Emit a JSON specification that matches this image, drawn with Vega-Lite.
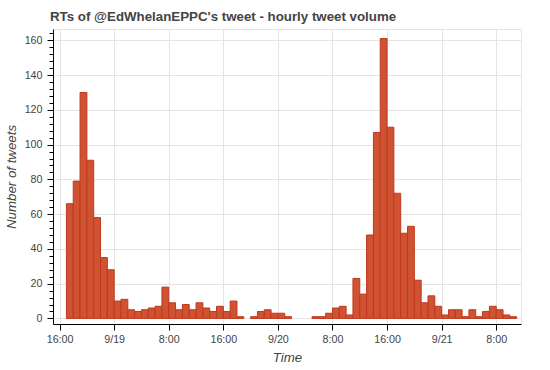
{
  "$schema": "https://vega.github.io/schema/vega-lite/v6.json",
  "autosize": "none",
  "width": 468,
  "height": 295,
  "padding": {"left": 53, "top": 29, "right": 29, "bottom": 46},
  "background": "white",
  "title": {
    "text": "RTs of @EdWhelanEPPC's tweet - hourly tweet volume",
    "anchor": "start",
    "frame": "group",
    "font": "Liberation Sans",
    "fontSize": 13.3,
    "fontWeight": "bold",
    "color": "#444444",
    "baseline": "alphabetic",
    "offset": 6,
    "dx": -3,
    "dy": 13
  },
  "config": {
    "view": {"stroke": "#e5e5e5", "strokeWidth": 1},
    "axis": {
      "labelFont": "Liberation Sans",
      "labelFontSize": 10.7,
      "labelColor": "#444444",
      "titleFont": "Liberation Sans",
      "titleFontSize": 13.3,
      "titleFontStyle": "italic",
      "titleFontWeight": "normal",
      "titleColor": "#444444",
      "domainColor": "#000000",
      "tickColor": "#000000",
      "gridColor": "#e5e5e5",
      "gridWidth": 1
    }
  },
  "data": {
    "values": [
      {"t": "2018-09-18T17:00:00Z", "t2": "2018-09-18T18:00:00Z", "n": 66},
      {"t": "2018-09-18T18:00:00Z", "t2": "2018-09-18T19:00:00Z", "n": 79},
      {"t": "2018-09-18T19:00:00Z", "t2": "2018-09-18T20:00:00Z", "n": 130},
      {"t": "2018-09-18T20:00:00Z", "t2": "2018-09-18T21:00:00Z", "n": 91},
      {"t": "2018-09-18T21:00:00Z", "t2": "2018-09-18T22:00:00Z", "n": 58},
      {"t": "2018-09-18T22:00:00Z", "t2": "2018-09-18T23:00:00Z", "n": 35},
      {"t": "2018-09-18T23:00:00Z", "t2": "2018-09-19T00:00:00Z", "n": 28},
      {"t": "2018-09-19T00:00:00Z", "t2": "2018-09-19T01:00:00Z", "n": 10},
      {"t": "2018-09-19T01:00:00Z", "t2": "2018-09-19T02:00:00Z", "n": 11},
      {"t": "2018-09-19T02:00:00Z", "t2": "2018-09-19T03:00:00Z", "n": 5},
      {"t": "2018-09-19T03:00:00Z", "t2": "2018-09-19T04:00:00Z", "n": 4},
      {"t": "2018-09-19T04:00:00Z", "t2": "2018-09-19T05:00:00Z", "n": 5},
      {"t": "2018-09-19T05:00:00Z", "t2": "2018-09-19T06:00:00Z", "n": 6},
      {"t": "2018-09-19T06:00:00Z", "t2": "2018-09-19T07:00:00Z", "n": 7},
      {"t": "2018-09-19T07:00:00Z", "t2": "2018-09-19T08:00:00Z", "n": 18},
      {"t": "2018-09-19T08:00:00Z", "t2": "2018-09-19T09:00:00Z", "n": 9},
      {"t": "2018-09-19T09:00:00Z", "t2": "2018-09-19T10:00:00Z", "n": 5},
      {"t": "2018-09-19T10:00:00Z", "t2": "2018-09-19T11:00:00Z", "n": 8},
      {"t": "2018-09-19T11:00:00Z", "t2": "2018-09-19T12:00:00Z", "n": 5},
      {"t": "2018-09-19T12:00:00Z", "t2": "2018-09-19T13:00:00Z", "n": 9},
      {"t": "2018-09-19T13:00:00Z", "t2": "2018-09-19T14:00:00Z", "n": 6},
      {"t": "2018-09-19T14:00:00Z", "t2": "2018-09-19T15:00:00Z", "n": 4},
      {"t": "2018-09-19T15:00:00Z", "t2": "2018-09-19T16:00:00Z", "n": 7},
      {"t": "2018-09-19T16:00:00Z", "t2": "2018-09-19T17:00:00Z", "n": 4},
      {"t": "2018-09-19T17:00:00Z", "t2": "2018-09-19T18:00:00Z", "n": 10},
      {"t": "2018-09-19T18:00:00Z", "t2": "2018-09-19T19:00:00Z", "n": 1},
      {"t": "2018-09-19T20:00:00Z", "t2": "2018-09-19T21:00:00Z", "n": 1},
      {"t": "2018-09-19T21:00:00Z", "t2": "2018-09-19T22:00:00Z", "n": 4},
      {"t": "2018-09-19T22:00:00Z", "t2": "2018-09-19T23:00:00Z", "n": 5},
      {"t": "2018-09-19T23:00:00Z", "t2": "2018-09-20T00:00:00Z", "n": 3},
      {"t": "2018-09-20T00:00:00Z", "t2": "2018-09-20T01:00:00Z", "n": 3},
      {"t": "2018-09-20T01:00:00Z", "t2": "2018-09-20T02:00:00Z", "n": 1},
      {"t": "2018-09-20T05:00:00Z", "t2": "2018-09-20T06:00:00Z", "n": 1},
      {"t": "2018-09-20T06:00:00Z", "t2": "2018-09-20T07:00:00Z", "n": 1},
      {"t": "2018-09-20T07:00:00Z", "t2": "2018-09-20T08:00:00Z", "n": 3},
      {"t": "2018-09-20T08:00:00Z", "t2": "2018-09-20T09:00:00Z", "n": 6},
      {"t": "2018-09-20T09:00:00Z", "t2": "2018-09-20T10:00:00Z", "n": 7},
      {"t": "2018-09-20T10:00:00Z", "t2": "2018-09-20T11:00:00Z", "n": 2},
      {"t": "2018-09-20T11:00:00Z", "t2": "2018-09-20T12:00:00Z", "n": 23},
      {"t": "2018-09-20T12:00:00Z", "t2": "2018-09-20T13:00:00Z", "n": 14},
      {"t": "2018-09-20T13:00:00Z", "t2": "2018-09-20T14:00:00Z", "n": 48},
      {"t": "2018-09-20T14:00:00Z", "t2": "2018-09-20T15:00:00Z", "n": 107},
      {"t": "2018-09-20T15:00:00Z", "t2": "2018-09-20T16:00:00Z", "n": 161},
      {"t": "2018-09-20T16:00:00Z", "t2": "2018-09-20T17:00:00Z", "n": 110},
      {"t": "2018-09-20T17:00:00Z", "t2": "2018-09-20T18:00:00Z", "n": 72},
      {"t": "2018-09-20T18:00:00Z", "t2": "2018-09-20T19:00:00Z", "n": 49},
      {"t": "2018-09-20T19:00:00Z", "t2": "2018-09-20T20:00:00Z", "n": 53},
      {"t": "2018-09-20T20:00:00Z", "t2": "2018-09-20T21:00:00Z", "n": 22},
      {"t": "2018-09-20T21:00:00Z", "t2": "2018-09-20T22:00:00Z", "n": 9},
      {"t": "2018-09-20T22:00:00Z", "t2": "2018-09-20T23:00:00Z", "n": 13},
      {"t": "2018-09-20T23:00:00Z", "t2": "2018-09-21T00:00:00Z", "n": 7},
      {"t": "2018-09-21T00:00:00Z", "t2": "2018-09-21T01:00:00Z", "n": 2},
      {"t": "2018-09-21T01:00:00Z", "t2": "2018-09-21T02:00:00Z", "n": 5},
      {"t": "2018-09-21T02:00:00Z", "t2": "2018-09-21T03:00:00Z", "n": 5},
      {"t": "2018-09-21T03:00:00Z", "t2": "2018-09-21T04:00:00Z", "n": 1},
      {"t": "2018-09-21T04:00:00Z", "t2": "2018-09-21T05:00:00Z", "n": 5},
      {"t": "2018-09-21T05:00:00Z", "t2": "2018-09-21T06:00:00Z", "n": 1},
      {"t": "2018-09-21T06:00:00Z", "t2": "2018-09-21T07:00:00Z", "n": 4},
      {"t": "2018-09-21T07:00:00Z", "t2": "2018-09-21T08:00:00Z", "n": 7},
      {"t": "2018-09-21T08:00:00Z", "t2": "2018-09-21T09:00:00Z", "n": 5},
      {"t": "2018-09-21T09:00:00Z", "t2": "2018-09-21T10:00:00Z", "n": 2},
      {"t": "2018-09-21T10:00:00Z", "t2": "2018-09-21T11:00:00Z", "n": 1}
    ]
  },
  "mark": {"type": "bar", "fill": "#cf5233", "stroke": "#c0391c", "strokeWidth": 1},
  "encoding": {
    "x": {
      "field": "t",
      "type": "temporal",
      "scale": {
        "type": "utc",
        "domain": [
          {"year": 2018, "month": 9, "date": 18, "hours": 15, "minutes": 2, "utc": true},
          {"year": 2018, "month": 9, "date": 21, "hours": 11, "minutes": 38, "utc": true}
        ],
        "nice": false
      },
      "axis": {
        "title": "Time",
        "values": [
          {"year": 2018, "month": 9, "date": 18, "hours": 16, "utc": true},
          {"year": 2018, "month": 9, "date": 19, "hours": 0, "utc": true},
          {"year": 2018, "month": 9, "date": 19, "hours": 8, "utc": true},
          {"year": 2018, "month": 9, "date": 19, "hours": 16, "utc": true},
          {"year": 2018, "month": 9, "date": 20, "hours": 0, "utc": true},
          {"year": 2018, "month": 9, "date": 20, "hours": 8, "utc": true},
          {"year": 2018, "month": 9, "date": 20, "hours": 16, "utc": true},
          {"year": 2018, "month": 9, "date": 21, "hours": 0, "utc": true},
          {"year": 2018, "month": 9, "date": 21, "hours": 8, "utc": true}
        ],
        "labelExpr": "utchours(datum.value) == 0 ? (utcmonth(datum.value) + 1) + '/' + utcdate(datum.value) : utchours(datum.value) + ':00'",
        "labelOverlap": false,
        "labelFlush": false,
        "labelPadding": 4,
        "tickSize": 6,
        "titlePadding": 7,
        "grid": true
      }
    },
    "x2": {"field": "t2"},
    "y": {
      "field": "n",
      "type": "quantitative",
      "scale": {"domain": [-3.2, 166.5], "nice": false, "zero": false},
      "axis": {
        "title": "Number of tweets",
        "values": [0, 4, 8, 12, 16, 20, 24, 28, 32, 36, 40, 44, 48, 52, 56, 60, 64, 68, 72, 76, 80, 84, 88, 92, 96, 100, 104, 108, 112, 116, 120, 124, 128, 132, 136, 140, 144, 148, 152, 156, 160, 164],
        "labelExpr": "datum.value % 20 == 0 ? datum.label : ''",
        "labelOverlap": false,
        "labelFlush": false,
        "labelPadding": 5,
        "tickSize": {"condition": {"test": "datum.value % 20 == 0", "value": 6}, "value": 4},
        "gridOpacity": {"condition": {"test": "datum.value % 20 == 0", "value": 1}, "value": 0},
        "titlePadding": 6
      }
    },
    "y2": {"datum": 0}
  }
}
